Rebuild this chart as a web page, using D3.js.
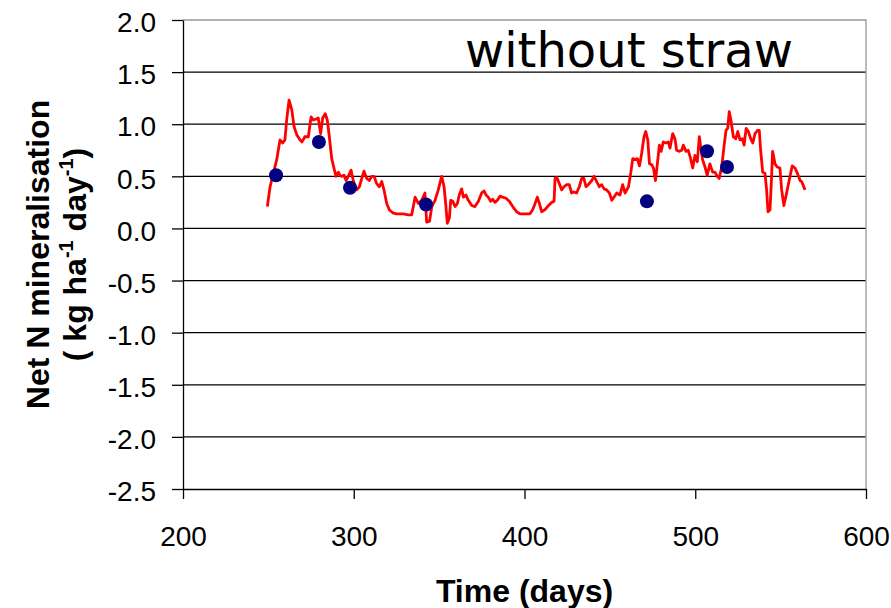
<!DOCTYPE html>
<html>
<head>
<meta charset="utf-8">
<script src="https://cdn.jsdelivr.net/npm/d3@7"></script>
<style>
  body { margin: 0; background: #fff; }
  text { font-family: "Liberation Sans", Arial, sans-serif; }
</style>
</head>
<body>
<div id="chart"></div>
<script>
// Modelled daily net N mineralisation (red line)
const lineDays = [249.4, 251, 252.9, 254.9, 256.8, 258.4, 259.7, 260.7, 262.1, 263.7, 265, 266.6, 268.5, 269.7,
  271.4, 273.4, 275, 276.3, 277.9, 279.2, 280.6, 281.8, 283.3, 284.5, 285.7, 287.1, 288.4, 289.6, 291, 291.9,
  292.9, 294.3, 295.5, 296.8, 298.4, 299.7, 301.7, 303.3, 304.7, 306, 307.6, 309.1, 310.5, 311.9, 313.4, 315,
  316.4, 317.7, 319.3, 320.8, 322.8, 325.1, 329, 331.9, 333.9, 334.9, 335.9, 337.8, 339.8, 341.7, 342.7, 344.4,
  345.7, 347.6, 349.5, 351.5, 352.9, 354, 354.8, 356, 356.8, 358, 359.3, 360.7, 361.8, 363.2, 364.2, 365.7,
  367.1, 369.1, 371, 373, 374.9, 376.3, 377.5, 378.8, 380.2, 381.4, 382.7, 384.1, 385.7, 387.2, 389.2, 391.1,
  393.1, 395.4, 397.4, 400.3, 403.2, 404.8, 406.2, 407.5, 408.7, 410.1, 412, 414, 416, 417.3, 417.9, 418.9,
  420.4, 421.8, 423.1, 424.7, 426.2, 427.6, 428.9, 430.5, 432.1, 433.5, 434.8, 436, 437.4, 439.4, 440.7, 442.3,
  443.8, 445.2, 446.6, 448.1, 449.7, 451.1, 452.4, 454, 455.9, 457.5, 458.9, 460.9, 462.3, 463.4, 464.8, 466.1,
  467.3, 468.6, 470, 471, 472.2, 473.2, 474.6, 475.5, 476.7, 477.8, 479, 480, 481.3, 482.7, 484.2, 485.2, 486.8,
  488.1, 489.1, 490.7, 492.1, 493, 494.6, 495.9, 497.3, 498.5, 499.8, 501.2, 502.4, 503.2, 504.3, 505.7, 507,
  508.6, 510.2, 511.5, 512.9, 514, 515.5, 516.8, 518, 519, 519.9, 520.9, 522.3, 523.7, 524.9, 526.2, 527.6,
  528.6, 529.8, 531.1, 532.5, 533.7, 535, 536.4, 537.5, 538.3, 539.5, 540.8, 541.8, 542.6, 543.8, 544.8, 545.3,
  546.7, 548, 549.6, 550.6, 551.9, 553.5, 555.5, 556.8, 558.4, 559.8, 561.4, 562.3, 564.3];
const lineValues = [0.21, 0.40, 0.53, 0.66, 0.85, 0.82, 0.85, 1.04, 1.23, 1.14, 0.98, 0.90, 0.85, 0.83,
  0.88, 0.88, 1.07, 1.04, 1.05, 1.06, 0.91, 1.06, 1.10, 1.04, 0.88, 0.67, 0.58, 0.50, 0.54, 0.51,
  0.50, 0.51, 0.46, 0.50, 0.56, 0.46, 0.37, 0.40, 0.48, 0.55, 0.48, 0.46, 0.50, 0.50, 0.43, 0.40,
  0.45, 0.37, 0.24, 0.18, 0.15, 0.14, 0.14, 0.13, 0.13, 0.21, 0.30, 0.24, 0.27, 0.34, 0.06, 0.07,
  0.21, 0.27, 0.37, 0.50, 0.40, 0.21, 0.05, 0.10, 0.27, 0.26, 0.21, 0.24, 0.32, 0.38, 0.30, 0.32,
  0.27, 0.22, 0.21, 0.26, 0.34, 0.36, 0.32, 0.30, 0.26, 0.28, 0.25, 0.27, 0.31, 0.30, 0.29, 0.26,
  0.21, 0.16, 0.14, 0.14, 0.14, 0.18, 0.24, 0.30, 0.24, 0.16, 0.18, 0.22, 0.25, 0.26, 0.48, 0.49,
  0.43, 0.37, 0.40, 0.42, 0.42, 0.34, 0.35, 0.34, 0.40, 0.48, 0.48, 0.40, 0.42, 0.46, 0.50, 0.45,
  0.40, 0.42, 0.38, 0.37, 0.34, 0.27, 0.30, 0.34, 0.32, 0.42, 0.34, 0.40, 0.54, 0.67, 0.66, 0.67,
  0.60, 0.72, 0.88, 0.93, 0.85, 0.62, 0.61, 0.58, 0.46, 0.62, 0.80, 0.74, 0.83, 0.82, 0.83, 0.77, 0.91,
  0.86, 0.75, 0.74, 0.75, 0.80, 0.74, 0.75, 0.67, 0.58, 0.70, 0.64, 0.88, 0.78, 0.66, 0.59, 0.51,
  0.62, 0.54, 0.54, 0.50, 0.48, 0.59, 0.78, 0.94, 0.96, 1.12, 1.04, 0.88, 0.86, 0.93, 0.85, 0.86,
  0.80, 0.96, 0.93, 0.86, 0.82, 0.91, 0.94, 0.94, 0.75, 0.54, 0.53, 0.37, 0.16, 0.18, 0.53, 0.74,
  0.62, 0.59, 0.58, 0.37, 0.22, 0.34, 0.50, 0.60, 0.58, 0.53, 0.46, 0.45, 0.37];

// Measured values (blue dots)
const obsDays = [254.5, 279.6, 297.8, 342.3, 471.7, 506.9, 518.6];
const obsValues = [0.51, 0.83, 0.39, 0.23, 0.26, 0.74, 0.59];

const xTicks = [200, 300, 400, 500, 600];
const yTicks = [2.0, 1.5, 1.0, 0.5, 0.0, -0.5, -1.0, -1.5, -2.0, -2.5];

const margin = { top: 20, right: 25, bottom: 119, left: 183 };
const width = 891 - margin.left - margin.right;
const height = 608 - margin.top - margin.bottom;

const svg = d3.select("#chart")
  .append("svg")
  .attr("width", 891)
  .attr("height", 608)
  .append("g")
  .attr("transform", `translate(${margin.left},${margin.top})`);

const x = d3.scaleLinear().domain([200, 600]).range([0, width]);
const y = d3.scaleLinear().domain([-2.5, 2.0]).range([height, 0]);

// gridlines
svg.selectAll(".grid")
  .data(yTicks.filter(v => v > -2.5 && v < 2.0))
  .join("line")
  .attr("x1", 0).attr("x2", width)
  .attr("y1", d => y(d)).attr("y2", d => y(d))
  .attr("stroke", "#000").attr("stroke-width", 1.3);

// plot frame top / right (grey)
svg.append("path")
  .attr("d", `M0,${y(2.0)}H${width}V${height}`)
  .attr("fill", "none").attr("stroke", "#999").attr("stroke-width", 1.3);

const xAxis = svg.append("g")
  .attr("transform", `translate(0,${height})`)
  .call(d3.axisBottom(x).tickValues(xTicks).tickSizeInner(10).tickSizeOuter(0).tickPadding(27));
const yAxis = svg.append("g")
  .call(d3.axisLeft(y).tickValues(yTicks).tickFormat(d3.format(".1f")).tickSizeInner(11).tickSizeOuter(0).tickPadding(16));

[xAxis, yAxis].forEach(a => {
  a.selectAll("path, line").attr("stroke", "#000").attr("stroke-width", 1.3);
  a.selectAll("text").attr("font-size", 28).attr("fill", "#000")
    .style("font-family", "'Liberation Sans', Arial, sans-serif");
});
yAxis.selectAll("text").attr("dy", "0.42em");
yAxis.selectAll("text").text(d => d3.format(".1f")(d).replace("−", "-"));

// modelled line
svg.append("path")
  .datum(d3.zip(lineDays, lineValues))
  .attr("fill", "none")
  .attr("stroke", "#ff0000")
  .attr("stroke-width", 2.8)
  .attr("stroke-linejoin", "round")
  .attr("d", d3.line().x(d => x(d[0])).y(d => y(d[1])));

// measured dots
svg.selectAll(".dot")
  .data(d3.zip(obsDays, obsValues))
  .join("circle")
  .attr("class", "dot")
  .attr("cx", d => x(d[0]))
  .attr("cy", d => y(d[1]))
  .attr("r", 7)
  .attr("fill", "#000080");

// panel label
svg.append("text")
  .attr("x", 465 - margin.left).attr("y", 67 - margin.top)
  .attr("font-size", 48)
  .style("font-family", "'DejaVu Sans', Verdana, sans-serif")
  .text("without straw");

// axis titles
svg.append("text")
  .attr("x", width / 2).attr("y", 602 - margin.top)
  .attr("text-anchor", "middle")
  .attr("font-size", 32).attr("font-weight", "bold")
  .text("Time (days)");

const yTitle = svg.append("g")
  .attr("transform", `translate(${-margin.left},${height / 2}) rotate(-90)`);
yTitle.append("text")
  .attr("x", 0).attr("y", 49)
  .attr("text-anchor", "middle")
  .attr("font-size", 32).attr("font-weight", "bold")
  .text("Net N mineralisation");
const t2 = yTitle.append("text")
  .attr("x", 0).attr("y", 86)
  .attr("text-anchor", "middle")
  .attr("font-size", 32).attr("font-weight", "bold");
t2.append("tspan").text("( kg ha");
t2.append("tspan").attr("font-size", 20).attr("dy", -13).text("-1");
t2.append("tspan").attr("dy", 13).text(" day");
t2.append("tspan").attr("font-size", 20).attr("dy", -13).text("-1");
t2.append("tspan").attr("dy", 13).text(")");
</script>
</body>
</html>
